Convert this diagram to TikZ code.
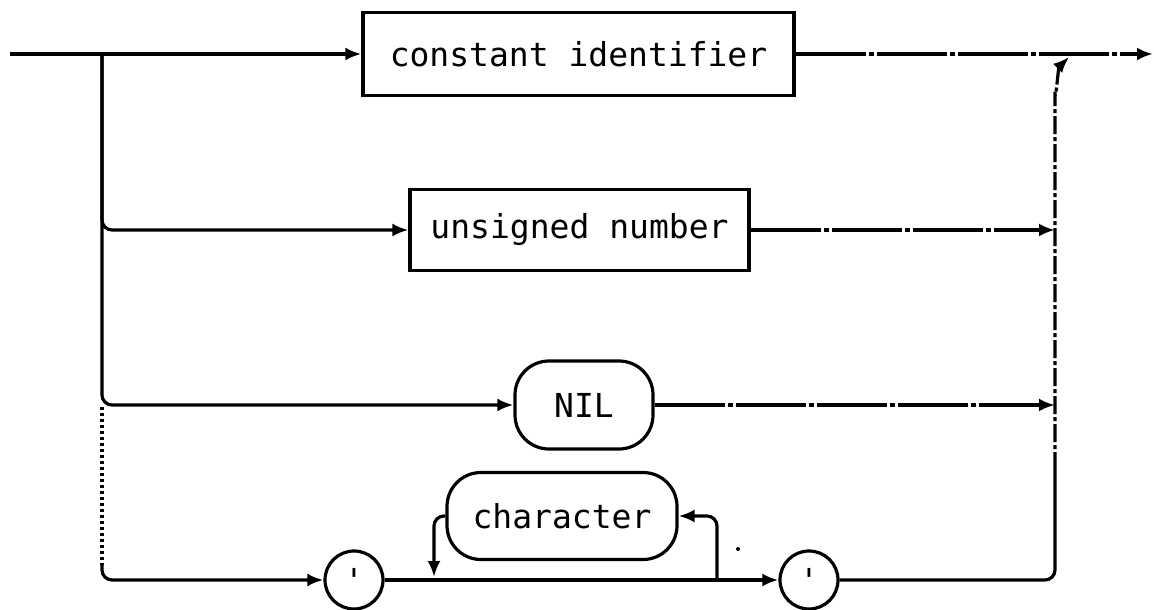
\documentclass[tikz,border=0pt]{standalone}
\usepackage{fontspec}
\setmonofont{DejaVu Sans Mono}
\usetikzlibrary{arrows.meta,shapes.misc}
\begin{document}
\begin{tikzpicture}[x=1pt,y=-1pt,
  line width=3.2pt,
  font=\ttfamily\fontsize{33}{40}\selectfont,
  tip/.style={-{Latex[length=16pt,width=13pt]}},
  boxnode/.style={draw,rectangle,inner sep=0pt},
  roundnode/.style={draw,rectangle,rounded corners=34pt,inner sep=0pt},
  quotenode/.style={draw,circle,inner sep=0pt,minimum size=58pt},
  scan/.style={dash pattern=on 70pt off 3pt on 5pt off 3pt},
  scanv/.style={dash pattern=on 18pt off 3pt on 4pt off 3pt},
  dots/.style={dash pattern=on 3pt off 3pt},
  rc/.style={rounded corners=10pt}]
\useasboundingbox (0,0) rectangle (1154,610);

% nodes
\node[boxnode,minimum width=431pt,minimum height=83pt] (box1) at (578.5,54) {constant identifier};
\node[boxnode,minimum width=339pt,minimum height=81pt] (box2) at (579.5,230) {unsigned number};
\node[roundnode,minimum width=138pt,minimum height=88pt] (nil) at (584,405) {NIL};
\node[roundnode,minimum width=230pt,minimum height=87pt] (chr) at (562,516) {character};
\node[quotenode] (q1) at (354,580) {'};
\node[quotenode] (q2) at (809,580) {'};

% coordinates
\coordinate (s) at (10,54);
\coordinate (j) at (102,54);
\coordinate (jd) at (102,407);
\coordinate (jb) at (102,565);
\coordinate (e) at (1153,54);
\coordinate (r2) at (1055,230);
\coordinate (r3) at (1055,405);
\coordinate (rb) at (1055,580);
\coordinate (rm) at (1055,470);
\coordinate (rt) at (1055,92);
\coordinate (rj) at (1069,57);
\coordinate (lpl) at (434,577);
\coordinate (lpr) at (717,580);

% main line
\draw[tip] (s) -- (box1.west);
\draw[tip,scan] (box1.east) -- (e);

% left branches
\draw[rc,tip] (j) |- (box2.west);
\draw[rc,tip] (j) |- (nil.west);
\draw[dots] (jd) -- (jb);
\draw[rc,tip] (jb) |- (q1.west);

% right joins
\draw[tip,scan] (box2.east) -- (r2);
\draw[tip,scan] (nil.east) -- (r3);
\draw[rc] (q2.east) -- (rb) -- (rm);
\draw[scanv,tip] (rm) -- (rt) to[out=-90,in=-135] (rj);

% character loop
\draw[tip] (q1.east) -- (q2.west);
\draw[rc,tip] (lpr) |- (chr.east);
\draw[rc,tip] (chr.west) -| (lpl);

% stray speck
\fill (738,549) circle (2pt);
\end{tikzpicture}
\end{document}
